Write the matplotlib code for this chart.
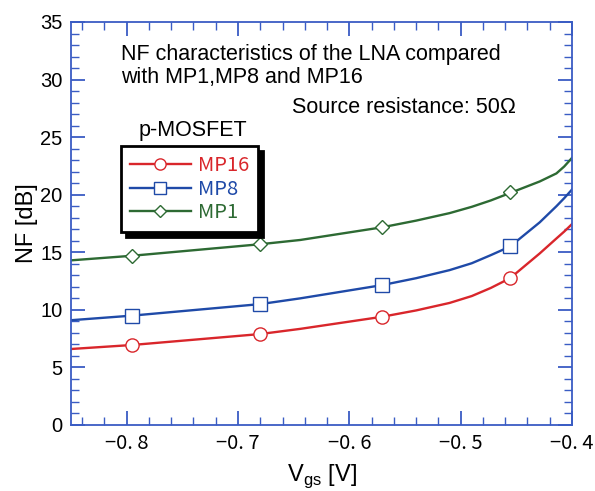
import numpy as np
import matplotlib.pyplot as plt
from matplotlib.ticker import MultipleLocator, FixedLocator

# ---------------- data ----------------
# smooth curves (simulation)
vgs_curve = [-0.85, -0.795, -0.68, -0.644, -0.5705, -0.54, -0.51, -0.49, -0.473,
             -0.4556, -0.429, -0.414, -0.407, -0.40]
nf_mp16 = [6.6, 6.95, 7.9, 8.35, 9.4, 9.95, 10.6, 11.2, 11.9, 12.75, 14.9, 16.2, 16.8, 17.45]
nf_mp8 = [9.1, 9.5, 10.5, 11.0, 12.15, 12.75, 13.45, 14.05, 14.75, 15.5, 17.6, 19.0, 19.7, 20.45]
nf_mp1 = [14.3, 14.7, 15.7, 16.07, 17.17, 17.75, 18.4, 18.95, 19.5, 20.15, 21.15, 21.85,
          22.45, 23.2]

# marker positions
vgs_pts = [-0.795, -0.68, -0.5705, -0.4556]
pts_mp16 = [6.95, 7.9, 9.4, 12.75]
pts_mp8 = [9.5, 10.5, 12.2, 15.55]
pts_mp1 = [14.7, 15.7, 17.2, 20.2]

x_ticks = [-0.8, -0.7, -0.6, -0.5, -0.4]
x_ticklabels = ['\u22120. 8', '\u22120. 7', '\u22120. 6', '\u22120. 5', '\u22120. 4']

RED = '#d9262b'
BLUE = '#1f4aa8'
GREEN = '#2d6a33'
AXC = '#3a5cc4'

plt.rcParams['font.family'] = ['Liberation Sans', 'DejaVu Sans']

fig = plt.figure(figsize=(5.95, 4.91), dpi=100)
ax = fig.add_axes([71 / 595, 66 / 491, 501 / 595, 403 / 491])

series = [('MP16', nf_mp16, pts_mp16, RED, 'o', 9.5),
          ('MP8', nf_mp8, pts_mp8, BLUE, 's', 9.5),
          ('MP1', nf_mp1, pts_mp1, GREEN, 'D', 7)]
handles = []
for name, curve, pts, col, mk, ms in series:
    ax.plot(vgs_curve, curve, color=col, lw=1.7, zorder=2, solid_joinstyle='round')
    ax.plot(vgs_pts, pts, ls='none', marker=mk, ms=ms, mfc='white', mec=col,
            mew=1.0, zorder=3)
    h, = ax.plot([], [], color=col, lw=1.7, marker=mk, ms=ms * 0.85, mfc='white',
                 mec=col, mew=1.0)
    handles.append(h)

ax.set_xlim(-0.85, -0.4)
ax.set_ylim(0, 35)
ax.xaxis.set_major_locator(FixedLocator(x_ticks))
ax.set_xticklabels(x_ticklabels, family=['Noto Sans CJK JP', 'DejaVu Sans'])
ax.xaxis.set_minor_locator(MultipleLocator(0.02))
ax.yaxis.set_major_locator(MultipleLocator(5))
ax.yaxis.set_minor_locator(MultipleLocator(1))
ax.tick_params(which='both', direction='in', top=True, right=True, color=AXC,
               labelsize=14.5, pad=6)
ax.tick_params(which='major', length=10, width=1.3)
ax.tick_params(which='minor', length=6, width=1.0)
for s in ax.spines.values():
    s.set_color(AXC)
    s.set_linewidth(1.3)

ax.set_ylabel('NF [dB]', fontsize=17, labelpad=2)
ax.set_xlabel(r'V$_{\mathregular{gs}}$ [V]', fontsize=17, labelpad=6)

ax.text(0.0998, 0.945, 'NF characteristics of the LNA compared\nwith MP1,MP8 and MP16',
        transform=ax.transAxes, fontsize=15.5, va='top', ha='left', linespacing=1.1)
ax.text(0.441, 0.789, 'Source resistance: 50\u03a9', transform=ax.transAxes,
        fontsize=15.5, va='center', ha='left')
ax.text(0.1357, 0.732, 'p-MOSFET', transform=ax.transAxes, fontsize=15.5,
        va='center', ha='left')

leg = ax.legend(handles, ['MP16', 'MP8', 'MP1'], loc='upper left',
                bbox_to_anchor=(0.1, 0.692), borderaxespad=0, frameon=True,
                fancybox=False,
                shadow={'color': 'black', 'alpha': 1, 'ox': 3.5, 'oy': -3.5},
                labelcolor='linecolor', handlelength=3.0, handletextpad=0.35,
                borderpad=0.45, labelspacing=0.12,
                prop={'family': ['Noto Sans CJK JP', 'DejaVu Sans'], 'size': 14.5})
leg.get_frame().set_edgecolor('black')
leg.get_frame().set_linewidth(2)

fig.savefig('out.png', dpi=100)
